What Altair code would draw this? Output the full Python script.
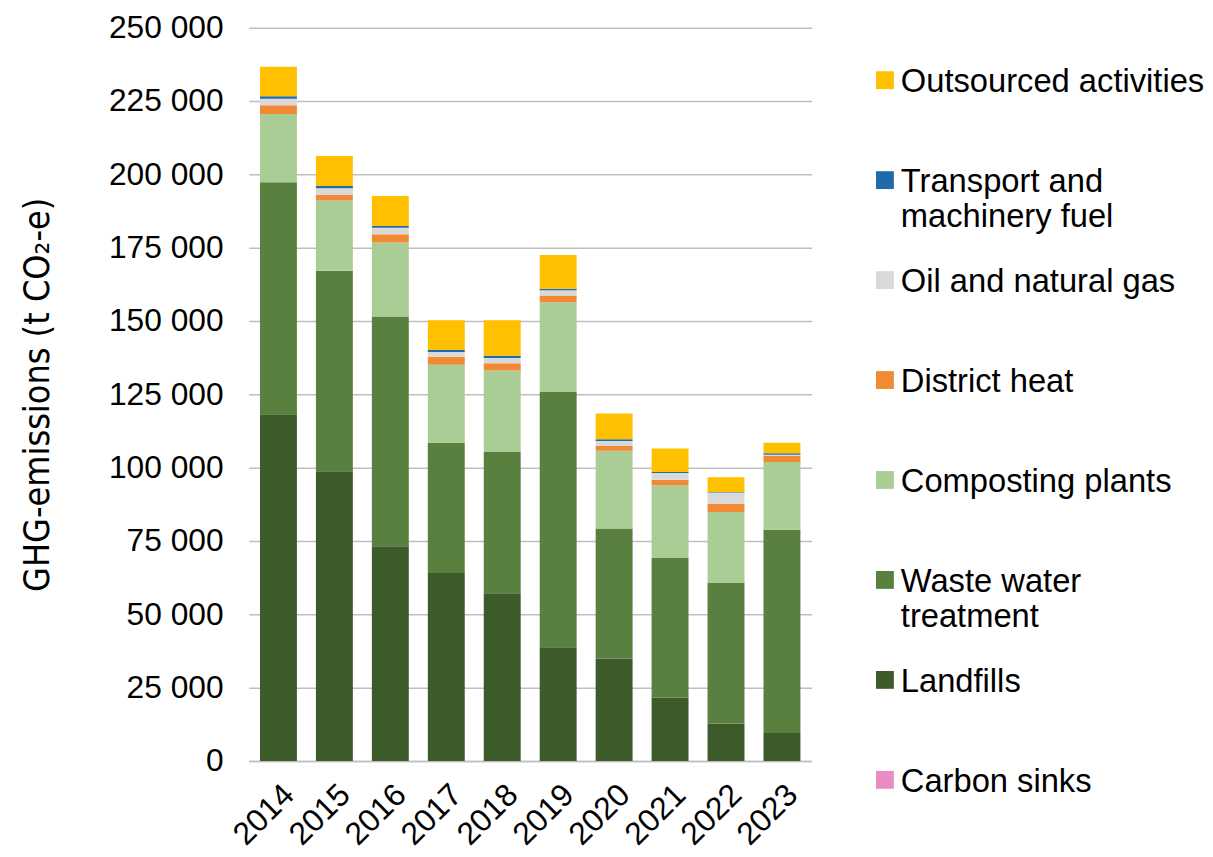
import altair as alt
import pandas as pd

years = [2014, 2015, 2016, 2017, 2018, 2019, 2020, 2021, 2022, 2023]

carbon_sinks = [0, 0, 0, 0, 0, 0, 0, 0, 0, 0]
landfills = [118200, 98800, 73200, 64100, 57200, 38800, 34900, 21600, 12800, 9500]
waste_water = [79100, 68300, 78300, 44400, 48300, 87000, 44400, 47600, 47900, 69300]
composting = [23300, 24000, 25300, 26600, 27600, 30600, 26500, 24800, 24200, 23100]
district_heat = [3000, 1900, 2800, 2700, 2500, 2300, 1600, 1900, 2800, 2200]
oil_gas = [2200, 2300, 2200, 1600, 1800, 1800, 1700, 2300, 3800, 300]
transport = [800, 700, 600, 700, 800, 500, 600, 300, 200, 500]
outsourced = [10100, 10300, 10200, 10200, 12100, 11500, 8800, 8000, 5000, 3600]

series_names = [
    "Carbon sinks",
    "Landfills",
    "Waste water treatment",
    "Composting plants",
    "District heat",
    "Oil and natural gas",
    "Transport and machinery fuel",
    "Outsourced activities",
]
series_values = [carbon_sinks, landfills, waste_water, composting,
                 district_heat, oil_gas, transport, outsourced]
series_colors = ["#e88cc4", "#3d5a2a", "#5a8040", "#a9cd94",
                 "#f08a34", "#d9d9d9", "#1f6aa8", "#ffc000"]

legend_labels = {
    "Outsourced activities": "Outsourced activities",
    "Transport and machinery fuel": "Transport and\nmachinery fuel",
    "Oil and natural gas": "Oil and natural gas",
    "District heat": "District heat",
    "Composting plants": "Composting plants",
    "Waste water treatment": "Waste water\ntreatment",
    "Landfills": "Landfills",
    "Carbon sinks": "Carbon sinks",
}

rows = []
for k, (name, vals) in enumerate(zip(series_names, series_values)):
    for yr, v in zip(years, vals):
        rows.append({"Year": str(yr), "Series": name, "Value": v, "Ord": k})
df = pd.DataFrame(rows)

legend_order = list(reversed(series_names))
leg_df = pd.DataFrame({
    "Series": legend_order,
    "Label": [legend_labels[s] for s in legend_order],
})

FONT = "Liberation Sans"
color_scale = alt.Scale(domain=series_names, range=series_colors)

main = alt.Chart(df).mark_bar().encode(
    x=alt.X("Year:O", title=None,
            scale=alt.Scale(paddingInner=0.34, paddingOuter=0.2),
            axis=alt.Axis(labelAngle=-45, labelFontSize=32, labelFont=FONT,
                          labelColor="#000000", ticks=False, labelPadding=18,
                          domain=True, domainColor="#bfbfbf", domainWidth=1.5)),
    y=alt.Y("Value:Q", stack="zero",
            scale=alt.Scale(domain=[0, 250000], nice=False),
            title="GHG-emissions  (t CO₂-e)",
            axis=alt.Axis(values=list(range(0, 250001, 25000)),
                          labelExpr="datum.value == 0 ? '0' : floor(datum.value / 1000) + ' 000'",
                          labelFontSize=32, labelFont=FONT, labelColor="#000000",
                          labelPadding=26, ticks=False, domain=False,
                          grid=True, gridColor="#bfbfbf", gridWidth=1.5,
                          titleFont="DejaVu Sans Condensed, Liberation Sans Narrow, Liberation Sans",
                          titleFontSize=36,
                          titleFontWeight="normal", titleColor="#000000",
                          titlePadding=52)),
    color=alt.Color("Series:N", scale=color_scale, legend=None),
    order=alt.Order("Ord:Q"),
).properties(width=568, height=740)

leg_y = alt.Y("Series:N", sort=legend_order,
              scale=alt.Scale(type="point", padding=0.525), axis=None)

squares = alt.Chart(leg_df).mark_square(size=324, opacity=1).encode(
    x=alt.value(0),
    y=leg_y,
    color=alt.Color("Series:N", scale=color_scale, legend=None),
)
texts = alt.Chart(leg_df).mark_text(
    align="left", baseline="top", dx=16, dy=-14, fontSize=33, font=FONT,
    lineBreak="\n", lineHeight=35, color="#000000",
).encode(
    x=alt.value(0),
    y=leg_y,
    text="Label:N",
)
legend = alt.layer(squares, texts).properties(width=300, height=812)

chart = alt.hconcat(main, legend, spacing=65).configure_view(
    stroke=None
).properties(padding={"left": 12, "top": 0, "right": 0, "bottom": 0})

chart.save("out.html", embed_options={"renderer": "svg", "actions": False})
